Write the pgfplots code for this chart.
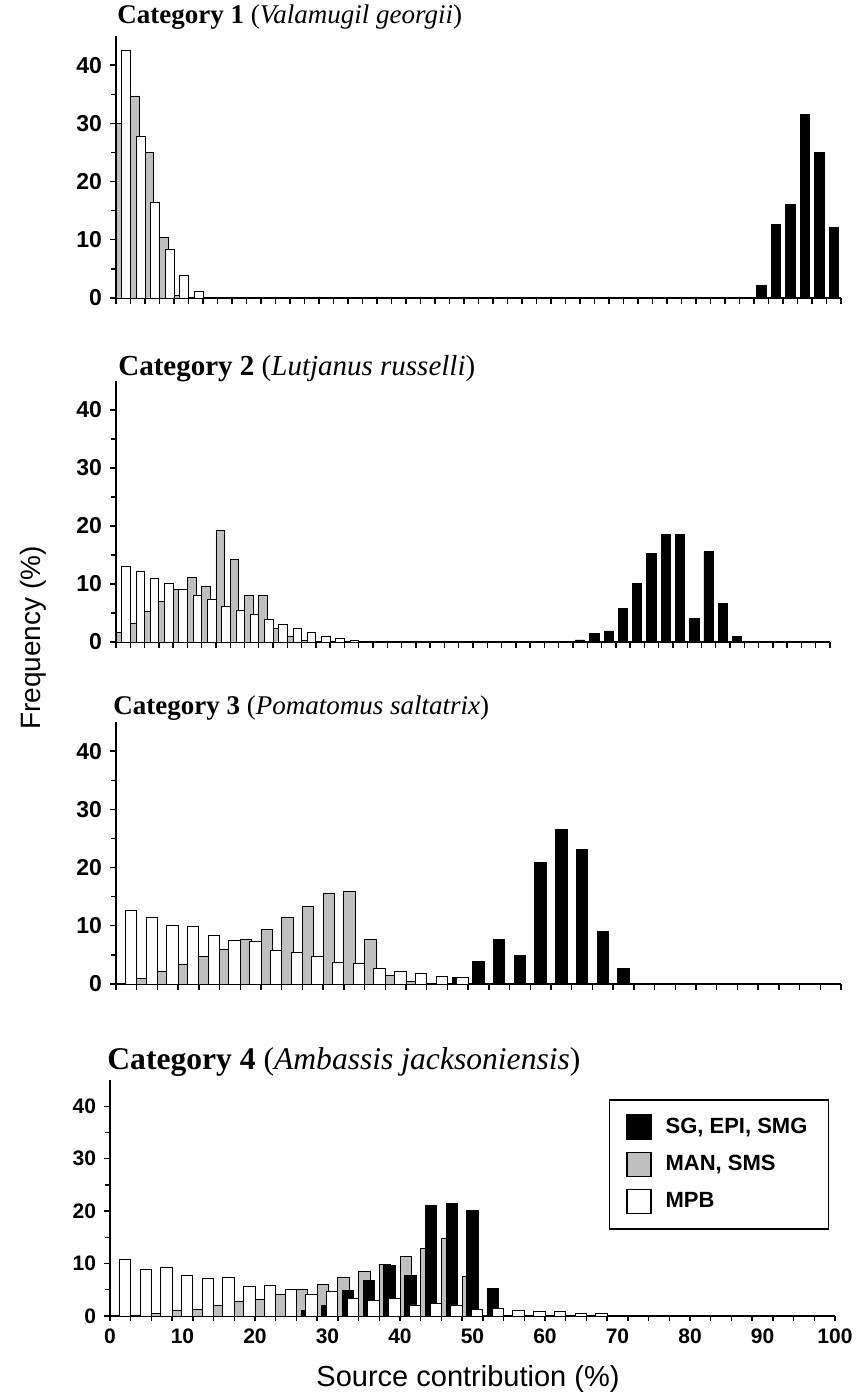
\documentclass[border=0pt]{standalone}
\usepackage{fontspec}
\setmainfont{Liberation Sans}
\newfontfamily\serif{Liberation Serif}
\usepackage{pgfplots}
\pgfplotsset{compat=1.18}
\definecolor{mygray}{rgb}{0.75,0.75,0.75}
\pgfplotsset{
  panel/.style={scale only axis, xmin=0, xmax=100, ymin=0, ymax=45,
    axis lines=left, axis line style={-, line width=0.9pt, black},
    ytick={0,10,20,30,40}, minor ytick={5,15,25,35},
    tick align=outside, major tick length=3pt, minor tick length=2.5pt,
    every tick/.style={line width=0.7pt, black},
    yticklabel style={font=\bfseries\fontsize{11.5}{13}\selectfont, xshift=-0.5pt},
    /pgf/number format/assume math mode=true, clip=false},
  gbar/.style={ybar, fill=mygray, draw=black, line width=0.45pt},
  kbar/.style={ybar, fill=black, draw=black, line width=0.45pt},
  wbar/.style={ybar, fill=white, draw=black, line width=0.45pt},
}
\begin{document}
\begin{tikzpicture}
\path[use as bounding box] (0,0) rectangle (430.5pt,697pt);

% ---------- Panel 1
\node[anchor=base west, inner sep=0] at (58.5pt,685pt) {\serif\fontsize{13.5}{16}\selectfont\textbf{Category 1} (\textit{Valamugil georgii})};
\begin{axis}[panel, at={(58pt,548pt)}, anchor=south west, width=362.5pt, height=131pt,
  xtick={0,2,...,100}, xticklabels={}]
\addplot[gbar, bar width=1.2, bar shift=-0.4] coordinates {(1,30.0)(3,34.7)(5,25.0)(7,10.4)(9,0.5)};
\addplot[kbar, bar width=1.3, bar shift=0] coordinates {(89,2.2)(91,12.6)(93,16.0)(95,31.5)(97,25.0)(99,12.1)};
\addplot[wbar, bar width=1.2, bar shift=0.4] coordinates {(1,42.6)(3,27.8)(5,16.4)(7,8.3)(9,3.8)(11,1.1)};
\end{axis}

% ---------- Panel 2
\node[anchor=base west, inner sep=0] at (59pt,509pt) {\serif\fontsize{14.5}{16}\selectfont\textbf{Category 2} (\textit{Lutjanus russelli})};
\begin{axis}[panel, at={(58pt,376pt)}, anchor=south west, width=357pt, height=130.5pt,
  xtick={0,2,...,100}, xticklabels={}]
\addplot[gbar, bar width=1.2, bar shift=-0.4] coordinates {(1,1.7)(3,3.2)(5,5.2)(7,7.0)(9,9.0)(11,11.2)(13,9.6)(15,19.3)(17,14.2)(19,8.1)(21,8.1)(23,2.3)(25,1.0)(27,0.3)};
\addplot[kbar, bar width=1.3, bar shift=0] coordinates {(65,0.35)(67,1.4)(69,1.9)(71,5.8)(73,10.1)(75,15.3)(77,18.6)(79,18.6)(81,4.1)(83,15.6)(85,6.7)(87,0.9)};
\addplot[wbar, bar width=1.2, bar shift=0.4] coordinates {(1,13.0)(3,12.1)(5,10.9)(7,10.1)(9,9.0)(11,8.1)(13,7.4)(15,6.2)(17,5.5)(19,4.7)(21,3.9)(23,3.0)(25,2.3)(27,1.6)(29,1.0)(31,0.6)(33,0.3)(35,0.1)};
\end{axis}

% ---------- Panel 3
\node[anchor=base west, inner sep=0] at (56.5pt,339.5pt) {\serif\fontsize{13.5}{16}\selectfont\textbf{Category 3} (\textit{Pomatomus saltatrix})};
\begin{axis}[panel, at={(58pt,205pt)}, anchor=south west, width=362.5pt, height=131pt,
  xtick={0,2.857143,5.714286,8.571429,11.428571,14.285714,17.142857,20,22.857143,25.714286,28.571429,31.428571,34.285714,37.142857,40,42.857143,45.714286,48.571429,51.428571,54.285714,57.142857,60,62.857143,65.714286,68.571429,71.428571,74.285714,77.142857,80,82.857143,85.714286,88.571429,91.428571,94.285714,97.142857,100},
  xticklabels={}]
\addplot[gbar, bar width=1.571, bar shift=-0.643] coordinates {(4.286,1.0)(7.143,2.1)(10.0,3.3)(12.857,4.7)(15.714,5.9)(18.571,7.7)(21.429,9.4)(24.286,11.4)(27.143,13.4)(30.0,15.5)(32.857,15.9)(35.714,7.7)(38.571,1.5)(41.429,0.4)};
\addplot[kbar, bar width=1.571, bar shift=0] coordinates {(47.143,1.1)(50.0,3.8)(52.857,7.7)(55.714,4.9)(58.571,20.8)(61.429,26.6)(64.286,23.1)(67.143,9.0)(70.0,2.6)};
\addplot[wbar, bar width=1.571, bar shift=0.643] coordinates {(1.429,12.7)(4.286,11.4)(7.143,10.1)(10.0,9.9)(12.857,8.3)(15.714,7.4)(18.571,7.3)(21.429,5.7)(24.286,5.4)(27.143,4.8)(30.0,3.7)(32.857,3.5)(35.714,2.7)(38.571,2.1)(41.429,1.8)(44.286,1.3)(47.143,1.1)};
\end{axis}

% ---------- Panel 4
\node[anchor=base west, inner sep=0] at (53.5pt,162pt) {\serif\fontsize{15.8}{18}\selectfont\textbf{Category 4} (\textit{Ambassis jacksoniensis})};
\begin{axis}[panel, at={(55pt,39pt)}, anchor=south west, width=362.5pt, height=118pt,
  xtick={0,10,...,100},
  major x tick style={draw=none},
  yticklabel style={font=\bfseries\fontsize{10.5}{12}\selectfont},
  xticklabel style={font=\bfseries\fontsize{10.5}{12}\selectfont},
  minor xtick={0,2.857143,5.714286,8.571429,11.428571,14.285714,17.142857,20,22.857143,25.714286,28.571429,31.428571,34.285714,37.142857,40,42.857143,45.714286,48.571429,51.428571,54.285714,57.142857,60,62.857143,65.714286,68.571429,71.428571,74.285714,77.142857,80,82.857143,85.714286,88.571429,91.428571,94.285714,97.142857,100},
  minor x tick style={line width=0.7pt, black},
  legend image code/.code={\draw[#1, draw=black, line width=0.6pt] (0pt,-6pt) rectangle (12pt,6pt);},
  legend style={at={(0.992,0.919)}, anchor=north east, draw=black, line width=0.8pt,
    font=\bfseries\fontsize{11}{13}\selectfont, row sep=5.5pt, column sep=5pt,
    inner xsep=8.5pt, inner ysep=7pt},
  legend cell align=left]
\addlegendimage{fill=black}\addlegendentry{SG, EPI, SMG}
\addlegendimage{fill=mygray}\addlegendentry{MAN, SMS}
\addlegendimage{fill=white}\addlegendentry{MPB}
\addplot[gbar, bar width=1.571, bar shift=-0.643, forget plot] coordinates {(4.286,0.2)(7.143,0.5)(10.0,1.0)(12.857,1.3)(15.714,2.0)(18.571,2.7)(21.429,3.2)(24.286,4.2)(27.143,5.0)(30.0,6.1)(32.857,7.3)(35.714,8.4)(38.571,9.9)(41.429,11.3)(44.286,12.9)(47.143,14.7)(50.0,7.6)};
\addplot[kbar, bar width=1.571, bar shift=0, forget plot] coordinates {(27.143,1.1)(30.0,2.0)(32.857,4.8)(35.714,6.7)(38.571,9.7)(41.429,7.8)(44.286,21.1)(47.143,21.5)(50.0,20.1)(52.857,5.2)};
\addplot[wbar, bar width=1.571, bar shift=0.643, forget plot] coordinates {(1.429,10.7)(4.286,8.9)(7.143,9.3)(10.0,7.8)(12.857,7.2)(15.714,7.3)(18.571,5.6)(21.429,5.9)(24.286,5.1)(27.143,4.1)(30.0,4.6)(32.857,3.4)(35.714,3.0)(38.571,3.3)(41.429,2.1)(44.286,2.4)(47.143,2.1)(50.0,1.3)(52.857,1.5)(55.714,1.0)(58.571,0.8)(61.429,0.9)(64.286,0.4)(67.143,0.4)(70.0,0.2)};
\end{axis}

% ---------- shared axis labels
\node[anchor=base] at (234pt,3.5pt) {\fontsize{14.5}{16}\selectfont Source contribution (\%)};
\node[anchor=base, rotate=90] at (20pt,378pt) {\fontsize{14}{16}\selectfont Frequency (\%)};
\end{tikzpicture}
\end{document}
